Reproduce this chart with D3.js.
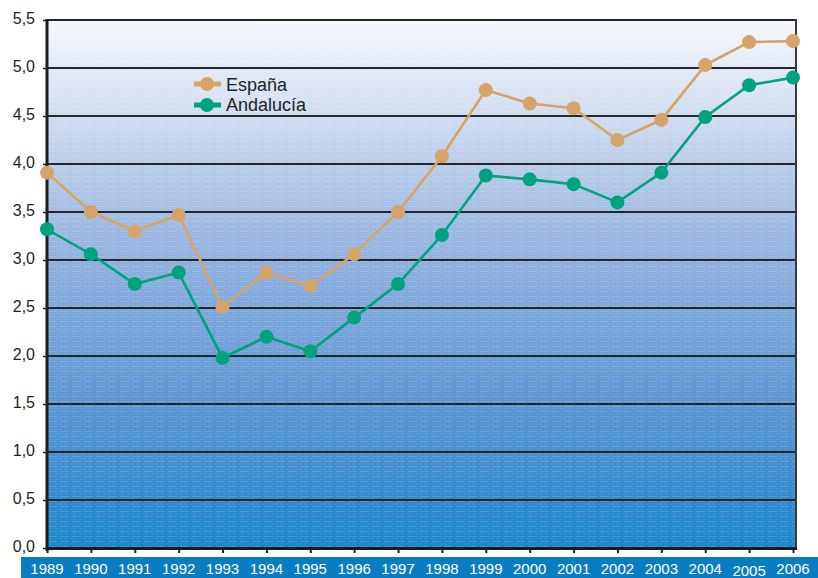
<!DOCTYPE html>
<html>
<head>
<meta charset="utf-8">
<script src="https://cdn.jsdelivr.net/npm/d3@7"></script>
<style>
html,body{margin:0;padding:0;background:#fff;}
svg{display:block;font-family:"Liberation Sans",Arial,Helvetica,sans-serif;}
</style>
</head>
<body>
<svg id="chart" width="818" height="578"></svg>
<script>
const years = ["1989","1990","1991","1992","1993","1994","1995","1996","1997","1998","1999","2000","2001","2002","2003","2004","2005","2006"];
const espana = [3.91,3.50,3.30,3.47,2.51,2.87,2.73,3.06,3.50,4.08,4.77,4.63,4.58,4.25,4.46,5.03,5.27,5.28];
const andalucia = [3.32,3.06,2.75,2.87,1.98,2.20,2.05,2.40,2.75,3.26,3.88,3.84,3.79,3.60,3.91,4.49,4.82,4.90];
const yTicks = [0,0.5,1,1.5,2,2.5,3,3.5,4,4.5,5,5.5];
const seriesNames = ["España","Andalucía"];
const seriesColors = ["#d6a468","#00a37e"];

(function(){
const svg = d3.select("#chart");
const pL = 47, pR = 796, pT = 20, pB = 548;
const x = d3.scalePoint().domain(years).range([47, 793]);
const y = d3.scaleLinear().domain([0,5.5]).range([pB, pT]);
const fmt = v => d3.format(".1f")(v).replace(".", ",");

const defs = svg.append("defs");
const grad = defs.append("linearGradient").attr("id","bg").attr("x1",0).attr("y1",0).attr("x2",0).attr("y2",1);
[[0,"#f5f7fc"],[0.15,"#d7e1f2"],[0.28,"#b8cbe9"],[0.45,"#90b0de"],[0.72,"#5b96d3"],[0.9,"#338ad0"],[1,"#1786c9"]]
  .forEach(([o,c]) => grad.append("stop").attr("offset",o).attr("stop-color",c));
const pat = defs.append("pattern").attr("id","tex").attr("patternUnits","userSpaceOnUse").attr("width",24).attr("height",5);
pat.append("line").attr("x1",0).attr("x2",24).attr("y1",1.5).attr("y2",1.5)
  .attr("stroke","#fff").attr("stroke-opacity",0.16).attr("stroke-width",1).attr("stroke-dasharray","9,3");
pat.append("line").attr("x1",0).attr("x2",24).attr("y1",4).attr("y2",4)
  .attr("stroke","#fff").attr("stroke-opacity",0.10).attr("stroke-width",1).attr("stroke-dasharray","4,3,7,2");

svg.append("rect").attr("x",pL).attr("y",pT-1).attr("width",pR-pL).attr("height",pB-pT+1).attr("fill","url(#bg)");
svg.append("rect").attr("x",pL).attr("y",pT-1).attr("width",pR-pL).attr("height",pB-pT+1).attr("fill","url(#tex)");

// gridlines
svg.append("g").selectAll("line").data(yTicks.filter(d=>d>0)).join("line")
  .attr("x1",pL).attr("x2",pR).attr("y1",d=>y(d)).attr("y2",d=>y(d))
  .attr("stroke","#26272b").attr("stroke-width",1.8);
// right border
svg.append("line").attr("x1",pR).attr("x2",pR).attr("y1",y(5.5)-1).attr("y2",pB)
  .attr("stroke","#3a3a3c").attr("stroke-width",2);

// y axis
const yAxis = d3.axisLeft(y).tickValues(yTicks).tickFormat(fmt).tickSize(4).tickPadding(8);
const gy = svg.append("g").attr("transform",`translate(${pL},0)`).call(yAxis);
gy.select(".domain").remove();
gy.selectAll(".tick line").attr("stroke","#231f20").attr("stroke-width",1.5);
gy.selectAll(".tick text").attr("fill","#231f20").style("font-size","16px").style("font-family","'Liberation Sans', Arial, sans-serif").attr("dy","0.2em");
svg.append("line").attr("x1",pL).attr("x2",pL).attr("y1",pT-1).attr("y2",pB+3)
  .attr("stroke","#1d1d1f").attr("stroke-width",3);

// x axis
const xAxis = d3.axisBottom(x).tickSize(4).tickFormat("");
const gx = svg.append("g").attr("transform",`translate(0,${pB+1})`).call(xAxis);
gx.select(".domain").remove();
gx.selectAll(".tick line").attr("stroke","#231f20").attr("stroke-width",2);
svg.append("line").attr("x1",pL-1).attr("x2",pR+1).attr("y1",pB+0.5).attr("y2",pB+0.5)
  .attr("stroke","#1d1d1f").attr("stroke-width",3);

// label band
svg.append("rect").attr("x",21).attr("y",557).attr("width",797).attr("height",21).attr("fill","#0a7dc2");
svg.append("g").selectAll("text").data(years).join("text")
  .attr("x",d=>x(d)).attr("y",d=> d==="2005" ? 576 : 574)
  .attr("text-anchor","middle").attr("fill","#fff").style("font-size","15px")
  .text(d=>d);

// series
const seriesData = [espana, andalucia];
const line = d3.line().x((d,i)=>x(years[i])).y(d=>y(d));
seriesData.forEach((vals,si)=>{
  const g = svg.append("g");
  g.append("path").datum(vals).attr("d",line).attr("fill","none")
    .attr("stroke",seriesColors[si]).attr("stroke-width",2.6);
  g.selectAll("circle").data(vals).join("circle")
    .attr("cx",(d,i)=>x(years[i])).attr("cy",d=>y(d)).attr("r",7)
    .attr("fill",seriesColors[si]);
});

// legend
const leg = svg.append("g");
seriesNames.forEach((n,i)=>{
  const cy = 84 + i*21;
  leg.append("line").attr("x1",194).attr("x2",221).attr("y1",cy).attr("y2",cy)
    .attr("stroke",seriesColors[i]).attr("stroke-width",5);
  leg.append("circle").attr("cx",207).attr("cy",cy).attr("r",7).attr("fill",seriesColors[i]);
  leg.append("text").attr("x",226).attr("y",cy+7 - i).attr("fill","#231f20").style("font-size","18px").text(n);
});
})();
</script>
</body>
</html>
